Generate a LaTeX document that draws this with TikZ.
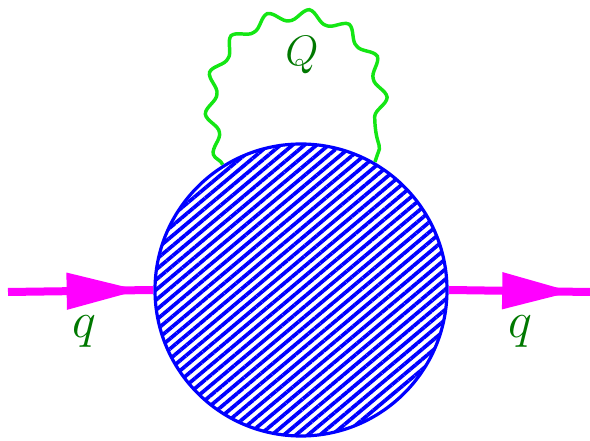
\RequirePackage{fix-cm}
\documentclass[tikz,border=0pt]{standalone}
\usepackage{amssymb}
\usetikzlibrary{patterns.meta,decorations.pathmorphing,decorations.markings,arrows.meta}

\definecolor{quark}{RGB}{255,0,255}
\definecolor{gluon}{RGB}{20,230,20}
\definecolor{labelgreen}{RGB}{0,120,0}

\tikzset{
  momentum/.style={quark, line width=6pt},
  photon/.style={gluon, line width=2.6pt, decorate,
    decoration={snake, segment length=30pt, amplitude=4.3pt}},
  lbl/.style={labelgreen, font=\fontsize{38}{44}\selectfont}
}

\begin{document}
\begin{tikzpicture}[x=0.75pt, y=-0.75pt]
  \useasboundingbox (0,0) rectangle (590,441);
  % the blob
  \node[circle, draw=blue, line width=2.4pt, minimum size=219pt, inner sep=0pt,
        pattern={Lines[angle=40, distance=5.8pt, line width=2.8pt]}, pattern color=blue]
        (blob) at (301,290) {};
  % incoming and outgoing lines
  \coordinate (qin) at (8,292);
  \coordinate (qout) at (590,292);
  \draw[momentum, postaction={decorate}, decoration={markings,
        mark=at position 98pt with {\arrow{Triangle[length=54pt, width=28pt, line width=0pt]}}}]
        (qin) -- (blob.west);
  \draw[momentum, postaction={decorate}, decoration={markings,
        mark=at position 92pt with {\arrow{Triangle[length=52pt, width=28pt, line width=0pt]}}}]
        (blob.east) -- (qout);
  \node[lbl] (qleft) at (84,332) {$q$};
  \node[lbl] (qright) at (520,332) {$q$};
  % the loop
  \draw[photon] (blob.122) .. controls (162,-22) and (438,-22) .. (blob.60);
  \node[labelgreen, font=\fontsize{32}{38}\selectfont] (Qlab) at (302,55) {$Q$};
\end{tikzpicture}
\end{document}
